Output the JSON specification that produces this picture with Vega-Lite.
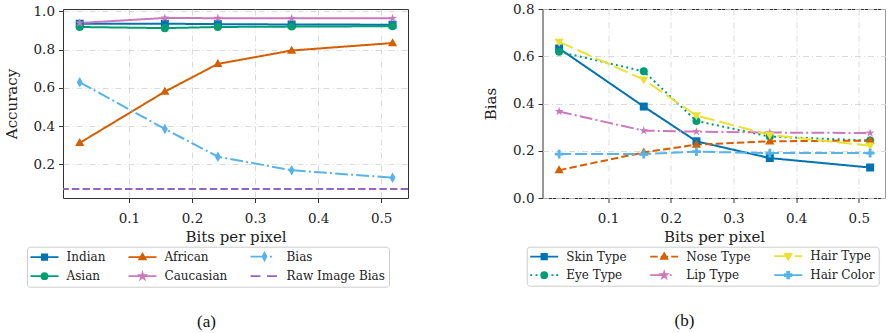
{
  "$schema": "https://vega.github.io/schema/vega-lite/v6.json",
  "background": "white",
  "padding": {"left": 3, "top": 1, "right": 0, "bottom": 0},
  "spacing": 72.5,
  "config": {
    "font": "DejaVu Serif",
    "view": {"stroke": "#333333", "strokeWidth": 1},
    "axis": {
      "labelFont": "DejaVu Serif", "labelFontSize": 13.5, "labelColor": "#222222",
      "titleFont": "DejaVu Serif", "titleFontSize": 15, "titleFontWeight": "normal", "titleColor": "#222222",
      "domain": false, "tickColor": "#333333", "tickSize": 4.5, "tickWidth": 1, "labelPadding": 4,
      "gridColor": "#d0d0d0", "gridDash": [6, 3, 1, 3], "gridWidth": 0.8
    },
    "axisX": {"titlePadding": 4, "labelPadding": 9},
    "axisY": {"titlePadding": 14},
    "legend": {
      "labelFont": "DejaVu Serif", "labelFontSize": 12, "labelColor": "#222222",
      "symbolSize": 100, "symbolStrokeWidth": 1.75, "labelOffset": 24, "columnPadding": 19, "rowPadding": 5,
      "padding": 3.5, "strokeColor": "#cccccc", "fillColor": "white", "cornerRadius": 3
    },
    "title": {"font": "Liberation Serif", "fontSize": 17, "fontWeight": "normal", "color": "#111111"}
  },
  "resolve": {
    "scale": {"color": "independent", "shape": "independent", "stroke": "independent", "strokeDash": "independent", "x": "independent", "y": "independent"},
    "legend": {"color": "independent", "shape": "independent", "stroke": "independent"}
  },
  "hconcat": [
    {
      "title": {"text": "(a)", "orient": "bottom", "anchor": "middle", "frame": "bounds", "offset": 27},
      "width": 345,
      "height": 189,
      "data": {"values": [
        {"bpp": 0.022, "series": "Indian", "value": 0.935},
        {"bpp": 0.157, "series": "Indian", "value": 0.935},
        {"bpp": 0.241, "series": "Indian", "value": 0.933},
        {"bpp": 0.358, "series": "Indian", "value": 0.931},
        {"bpp": 0.518, "series": "Indian", "value": 0.930},
        {"bpp": 0.022, "series": "Asian", "value": 0.918},
        {"bpp": 0.157, "series": "Asian", "value": 0.912},
        {"bpp": 0.241, "series": "Asian", "value": 0.918},
        {"bpp": 0.358, "series": "Asian", "value": 0.920},
        {"bpp": 0.518, "series": "Asian", "value": 0.922},
        {"bpp": 0.022, "series": "African", "value": 0.312},
        {"bpp": 0.157, "series": "African", "value": 0.580},
        {"bpp": 0.241, "series": "African", "value": 0.725},
        {"bpp": 0.358, "series": "African", "value": 0.795},
        {"bpp": 0.518, "series": "African", "value": 0.834},
        {"bpp": 0.022, "series": "Caucasian", "value": 0.939},
        {"bpp": 0.157, "series": "Caucasian", "value": 0.965},
        {"bpp": 0.241, "series": "Caucasian", "value": 0.964},
        {"bpp": 0.358, "series": "Caucasian", "value": 0.963},
        {"bpp": 0.518, "series": "Caucasian", "value": 0.963},
        {"bpp": 0.022, "series": "Bias", "value": 0.629},
        {"bpp": 0.157, "series": "Bias", "value": 0.385},
        {"bpp": 0.241, "series": "Bias", "value": 0.240},
        {"bpp": 0.358, "series": "Bias", "value": 0.169},
        {"bpp": 0.518, "series": "Bias", "value": 0.130},
        {"series": "Raw Image Bias", "value": 0.071}
      ]},
      "resolve": {"scale": {"color": "independent", "shape": "independent", "stroke": "independent", "strokeDash": "independent"}},
      "encoding": {
        "y": {"field": "value", "type": "quantitative",
          "scale": {"domain": [0.024, 1.012], "nice": false, "zero": false},
          "axis": {"values": [0.2, 0.4, 0.6, 0.8, 1.0], "format": ".1f", "title": "Accuracy"}}
      },
      "layer": [
        {
          "transform": [{"filter": "isValid(datum.bpp)"}],
          "mark": {"type": "line", "strokeWidth": 2},
          "encoding": {
            "x": {"field": "bpp", "type": "quantitative",
              "scale": {"domain": [-0.0045, 0.5425], "nice": false, "zero": false},
              "axis": {"values": [0.1, 0.2, 0.3, 0.4, 0.5], "format": ".1f", "title": "Bits per pixel"}},
            "color": {"field": "series", "type": "nominal", "legend": null,
              "scale": {"domain": ["Indian", "African", "Bias", "Asian", "Caucasian", "Raw Image Bias"],
                        "range": ["#0173b2", "#d55e00", "#56b4e9", "#029e73", "#cc78bc", "#9467bd"]}},
            "strokeDash": {"field": "series", "type": "nominal", "legend": null,
              "scale": {"domain": ["Indian", "African", "Bias", "Asian", "Caucasian", "Raw Image Bias"],
                        "range": [[1, 0], [1, 0], [12.8, 3.2, 2, 3.2], [1, 0], [1, 0], [7.4, 3.2]]}}
          }
        },
        {
          "transform": [{"filter": "datum.series === 'Raw Image Bias'"}],
          "mark": {"type": "rule", "strokeWidth": 2, "strokeDash": [7.4, 3.2]},
          "encoding": {
            "color": {"field": "series", "type": "nominal", "legend": null,
              "scale": {"domain": ["Indian", "African", "Bias", "Asian", "Caucasian", "Raw Image Bias"],
                        "range": ["#0173b2", "#d55e00", "#56b4e9", "#029e73", "#cc78bc", "#9467bd"]}}
          }
        },
        {
          "transform": [{"filter": "isValid(datum.bpp)"}],
          "mark": {"type": "point", "filled": true, "opacity": 1, "size": 64},
          "encoding": {
            "x": {"field": "bpp", "type": "quantitative"},
            "color": {"field": "series", "type": "nominal", "legend": null,
              "scale": {"domain": ["Indian", "African", "Bias", "Asian", "Caucasian", "Raw Image Bias"],
                        "range": ["#0173b2", "#d55e00", "#56b4e9", "#029e73", "#cc78bc", "#9467bd"]}},
            "shape": {"field": "series", "type": "nominal", "legend": null,
              "scale": {"domain": ["Indian", "African", "Bias", "Asian", "Caucasian", "Raw Image Bias"],
                        "range": ["M-1,-1H1V1H-1Z", "M0,-1.2L1.15,0.8L-1.15,0.8Z", "M0,-1.3L0.75,0L0,1.3L-0.75,0Z", "circle", "M0,-1.15L0.256,-0.353L1.094,-0.355L0.415,0.135L0.676,0.93L0,0.437L-0.676,0.93L-0.415,0.135L-1.094,-0.355L-0.256,-0.353Z", "circle"]}}
          }
        },
        {
          "transform": [{"filter": "false"}],
          "mark": {"type": "point", "filled": true, "opacity": 1, "size": 100, "strokeWidth": 1.75},
          "encoding": {
            "color": {"field": "series", "type": "nominal",
              "scale": {"domain": ["Indian", "African", "Bias", "Asian", "Caucasian", "Raw Image Bias"],
                        "range": ["#0173b2", "#d55e00", "#56b4e9", "#029e73", "#cc78bc", "#9467bd"]},
              "legend": {"title": null, "orient": "none", "legendX": -36, "legendY": 237.7, "direction": "horizontal", "columns": 3}},
            "stroke": {"field": "series", "type": "nominal",
              "scale": {"domain": ["Indian", "African", "Bias", "Asian", "Caucasian", "Raw Image Bias"],
                        "range": ["#0173b2", "#d55e00", "#56b4e9", "#029e73", "#cc78bc", "#9467bd"]},
              "legend": {"title": null, "orient": "none", "legendX": -36, "legendY": 237.7, "direction": "horizontal", "columns": 3}},
            "shape": {"field": "series", "type": "nominal",
              "scale": {"domain": ["Indian", "African", "Bias", "Asian", "Caucasian", "Raw Image Bias"],
                        "range": [
                          "M-1.2,0H4.4M1.05,-0.55H2.15V0.55H1.05Z",
                          "M-1.2,0H4.4M1.6,-0.7L2.25,0.45L0.95,0.45Z",
                          "M-1.2,0H2.0M2.7,0H3.1M1.6,-0.75L2.0,0L1.6,0.75L1.2,0Z",
                          "M-1.2,0H4.4M2.2,0A0.6,0.6,0,1,1,1.0,0A0.6,0.6,0,1,1,2.2,0Z",
                          "M-1.2,0H4.4M1.6,-0.65L1.745,-0.2L2.218,-0.201L1.835,0.076L1.982,0.526L1.6,0.247L1.218,0.526L1.365,0.076L0.982,-0.201L1.455,-0.2Z",
                          "M-1.2,0H0.8M2.1,0H4.1"]},
              "legend": {"title": null, "orient": "none", "legendX": -36, "legendY": 237.7, "direction": "horizontal", "columns": 3}}
          }
        }
      ]
    },
    {
      "title": {"text": "(b)", "orient": "bottom", "anchor": "middle", "frame": "bounds", "offset": 27},
      "width": 343,
      "height": 189,
      "data": {"values": [
        {"bpp": 0.022, "series": "Skin Type", "value": 0.633},
        {"bpp": 0.157, "series": "Skin Type", "value": 0.387},
        {"bpp": 0.241, "series": "Skin Type", "value": 0.240},
        {"bpp": 0.358, "series": "Skin Type", "value": 0.169},
        {"bpp": 0.518, "series": "Skin Type", "value": 0.129},
        {"bpp": 0.022, "series": "Eye Type", "value": 0.619},
        {"bpp": 0.157, "series": "Eye Type", "value": 0.536},
        {"bpp": 0.241, "series": "Eye Type", "value": 0.326},
        {"bpp": 0.358, "series": "Eye Type", "value": 0.260},
        {"bpp": 0.518, "series": "Eye Type", "value": 0.243},
        {"bpp": 0.022, "series": "Nose Type", "value": 0.118},
        {"bpp": 0.157, "series": "Nose Type", "value": 0.193},
        {"bpp": 0.241, "series": "Nose Type", "value": 0.226},
        {"bpp": 0.358, "series": "Nose Type", "value": 0.240},
        {"bpp": 0.518, "series": "Nose Type", "value": 0.243},
        {"bpp": 0.022, "series": "Lip Type", "value": 0.366},
        {"bpp": 0.157, "series": "Lip Type", "value": 0.285},
        {"bpp": 0.241, "series": "Lip Type", "value": 0.281},
        {"bpp": 0.358, "series": "Lip Type", "value": 0.277},
        {"bpp": 0.518, "series": "Lip Type", "value": 0.275},
        {"bpp": 0.022, "series": "Hair Type", "value": 0.661},
        {"bpp": 0.157, "series": "Hair Type", "value": 0.501},
        {"bpp": 0.241, "series": "Hair Type", "value": 0.349},
        {"bpp": 0.358, "series": "Hair Type", "value": 0.267},
        {"bpp": 0.518, "series": "Hair Type", "value": 0.221},
        {"bpp": 0.022, "series": "Hair Color", "value": 0.186},
        {"bpp": 0.157, "series": "Hair Color", "value": 0.186},
        {"bpp": 0.241, "series": "Hair Color", "value": 0.196},
        {"bpp": 0.358, "series": "Hair Color", "value": 0.190},
        {"bpp": 0.518, "series": "Hair Color", "value": 0.190}
      ]},
      "resolve": {"scale": {"color": "independent", "shape": "independent", "stroke": "independent", "strokeDash": "independent"}},
      "encoding": {
        "x": {"field": "bpp", "type": "quantitative",
          "scale": {"domain": [-0.0045, 0.5425], "nice": false, "zero": false},
          "axis": {"values": [0.1, 0.2, 0.3, 0.4, 0.5], "format": ".1f", "title": "Bits per pixel"}},
        "y": {"field": "value", "type": "quantitative",
          "scale": {"domain": [0, 0.8], "nice": false, "zero": false},
          "axis": {"values": [0, 0.2, 0.4, 0.6, 0.8], "format": ".1f", "title": "Bias"}}
      },
      "layer": [
        {
          "mark": {"type": "line", "strokeWidth": 2},
          "encoding": {
            "color": {"field": "series", "type": "nominal", "legend": null,
              "scale": {"domain": ["Skin Type", "Nose Type", "Hair Type", "Eye Type", "Lip Type", "Hair Color"],
                        "range": ["#0173b2", "#d55e00", "#ece133", "#029e73", "#cc78bc", "#56b4e9"]}},
            "strokeDash": {"field": "series", "type": "nominal", "legend": null,
              "scale": {"domain": ["Skin Type", "Nose Type", "Hair Type", "Eye Type", "Lip Type", "Hair Color"],
                        "range": [[1, 0], [7.4, 3.2], [15, 5], [2, 3.3], [12.8, 3.2, 2, 3.2], [12, 4]]}}
          }
        },
        {
          "mark": {"type": "point", "filled": true, "opacity": 1, "size": 64},
          "encoding": {
            "color": {"field": "series", "type": "nominal", "legend": null,
              "scale": {"domain": ["Skin Type", "Nose Type", "Hair Type", "Eye Type", "Lip Type", "Hair Color"],
                        "range": ["#0173b2", "#d55e00", "#ece133", "#029e73", "#cc78bc", "#56b4e9"]}},
            "shape": {"field": "series", "type": "nominal", "legend": null,
              "scale": {"domain": ["Skin Type", "Nose Type", "Hair Type", "Eye Type", "Lip Type", "Hair Color"],
                        "range": ["M-1,-1H1V1H-1Z", "M0,-1.2L1.15,0.8L-1.15,0.8Z", "M0,1.2L1.15,-0.8L-1.15,-0.8Z", "circle", "M0,-1.15L0.256,-0.353L1.094,-0.355L0.415,0.135L0.676,0.93L0,0.437L-0.676,0.93L-0.415,0.135L-1.094,-0.355L-0.256,-0.353Z", "M-0.35,-1.1H0.35V-0.35H1.1V0.35H0.35V1.1H-0.35V0.35H-1.1V-0.35H-0.35Z"]}}
          }
        },
        {
          "transform": [{"filter": "false"}],
          "mark": {"type": "point", "filled": true, "opacity": 1, "size": 100, "strokeWidth": 1.75},
          "encoding": {
            "color": {"field": "series", "type": "nominal",
              "scale": {"domain": ["Skin Type", "Nose Type", "Hair Type", "Eye Type", "Lip Type", "Hair Color"],
                        "range": ["#0173b2", "#d55e00", "#ece133", "#029e73", "#cc78bc", "#56b4e9"]},
              "legend": {"title": null, "orient": "none", "legendX": -15.8, "legendY": 237.7, "direction": "horizontal", "columns": 3}},
            "stroke": {"field": "series", "type": "nominal",
              "scale": {"domain": ["Skin Type", "Nose Type", "Hair Type", "Eye Type", "Lip Type", "Hair Color"],
                        "range": ["#0173b2", "#d55e00", "#ece133", "#029e73", "#cc78bc", "#56b4e9"]},
              "legend": {"title": null, "orient": "none", "legendX": -15.8, "legendY": 237.7, "direction": "horizontal", "columns": 3}},
            "shape": {"field": "series", "type": "nominal",
              "scale": {"domain": ["Skin Type", "Nose Type", "Hair Type", "Eye Type", "Lip Type", "Hair Color"],
                        "range": [
                          "M-1.2,0H4.4M1.05,-0.55H2.15V0.55H1.05Z",
                          "M-1.2,0H0.3M0.9,0H2.4M3.0,0H4.4M1.6,-0.7L2.25,0.45L0.95,0.45Z",
                          "M-1.2,0H2.0M2.9,0H4.4M1.6,0.7L2.25,-0.45L0.95,-0.45Z",
                          "M-1.2,0H-0.8M-0.14,0H0.26M0.92,0H1.32M1.98,0H2.38M3.04,0H3.44M4.0,0H4.4M2.2,0A0.6,0.6,0,1,1,1.0,0A0.6,0.6,0,1,1,2.2,0Z",
                          "M-1.2,0H2.0M2.7,0H3.1M1.6,-0.65L1.745,-0.2L2.218,-0.201L1.835,0.076L1.982,0.526L1.6,0.247L1.218,0.526L1.365,0.076L0.982,-0.201L1.455,-0.2Z",
                          "M-1.2,0H4.4M1.4,-0.65H1.8V-0.2H2.25V0.2H1.8V0.65H1.4V0.2H0.95V-0.2H1.4Z"]},
              "legend": {"title": null, "orient": "none", "legendX": -15.8, "legendY": 237.7, "direction": "horizontal", "columns": 3}}
          }
        }
      ]
    }
  ]
}
